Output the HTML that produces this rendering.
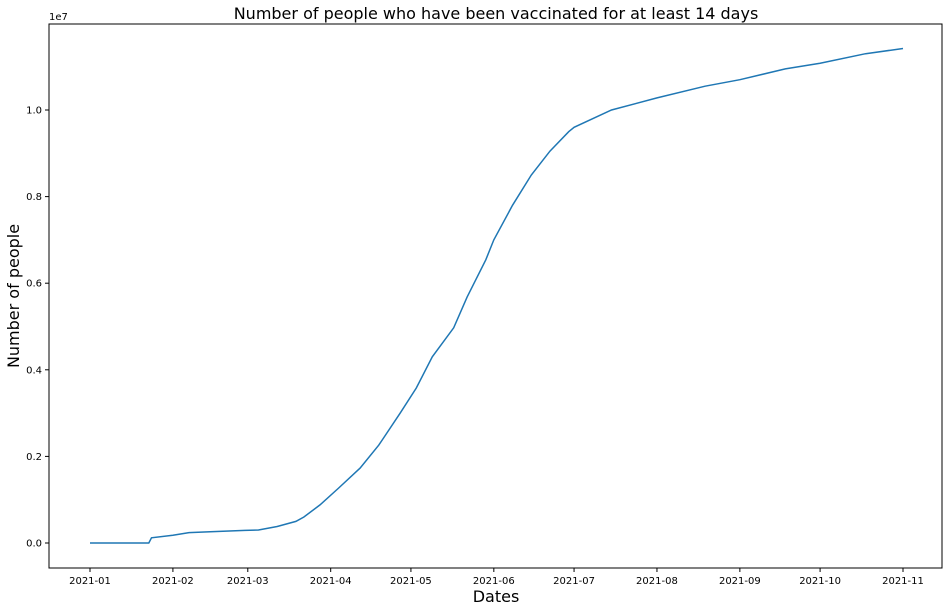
<!DOCTYPE html>
<html><head><meta charset="utf-8"><style>
body{margin:0;background:#fff;}
svg{font-family:"DejaVu Sans","Liberation Sans",sans-serif;}
</style></head><body>
<svg id="chart" width="949" height="611">
<text x="496" y="19" font-size="16" text-anchor="middle">Number of people who have been vaccinated for at least 14 days</text>
<text x="496" y="602" font-size="16" text-anchor="middle">Dates</text>
<text transform="translate(19,296) rotate(-90)" font-size="16" text-anchor="middle">Number of people</text>
<text x="49" y="20" font-size="10">1e7</text>
<g id="xt"></g>
<g id="yt"></g>
<path id="line" fill="none" stroke="#1f77b4" stroke-width="1.5"></path>
<rect x="49" y="24" width="893" height="544" fill="none" stroke="#000" stroke-width="1"></rect>
</svg>
<script>
const days=[0,22,23,31,37,45,58,63,70,77,80,86,93,101,108,116,122,128,136,141,148,151,158,165,172,179,181,195,212,230,243,260,273,290,304];
const values=[0,0,0.12,0.18,0.24,0.26,0.29,0.30,0.38,0.50,0.6,0.88,1.27,1.73,2.26,3.0,3.58,4.3,4.97,5.68,6.54,7.0,7.8,8.5,9.05,9.5,9.6,10.0,10.28,10.55,10.7,10.95,11.08,11.3,11.42];
const xTickDays=[0,31,59,90,120,151,181,212,243,273,304];
const xTickLabels=["2021-01","2021-02","2021-03","2021-04","2021-05","2021-06","2021-07","2021-08","2021-09","2021-10","2021-11"];
const yTickValues=[0,2,4,6,8,10];
const yTickLabels=["0.0","0.2","0.4","0.6","0.8","1.0"];
const NS="http://www.w3.org/2000/svg";
const X=d=>90+d*(903-90)/304;
const Y=v=>543-v*43.3;
const xt=document.getElementById('xt'),yt=document.getElementById('yt');
xTickDays.forEach((d,i)=>{
 const l=document.createElementNS(NS,'line');
 l.setAttribute('x1',X(d));l.setAttribute('x2',X(d));l.setAttribute('y1',568);l.setAttribute('y2',572);l.setAttribute('stroke','#000');
 
 
 xt.appendChild(l);
 const t=document.createElementNS(NS,'text');
 t.setAttribute('x',X(d));t.setAttribute('y',584);t.setAttribute('font-size','10');t.setAttribute('text-anchor','middle');
 t.textContent=xTickLabels[i];
 
 
 xt.appendChild(t);
});
yTickValues.forEach((v,i)=>{
 const l=document.createElementNS(NS,'line');
 l.setAttribute('x1',45);l.setAttribute('x2',49);l.setAttribute('y1',Y(v));l.setAttribute('y2',Y(v));l.setAttribute('stroke','#000');
 
 
 yt.appendChild(l);
 const t=document.createElementNS(NS,'text');
 t.setAttribute('x',42);t.setAttribute('y',Y(v)+3.5);t.setAttribute('font-size','10');t.setAttribute('text-anchor','end');
 t.textContent=yTickLabels[i];
 
 
 yt.appendChild(t);
});
document.getElementById('line').setAttribute('d',days.map((d,i)=>(i?'L':'M')+X(d).toFixed(1)+','+Y(values[i]).toFixed(1)).join(''));
</script>
</body></html>
